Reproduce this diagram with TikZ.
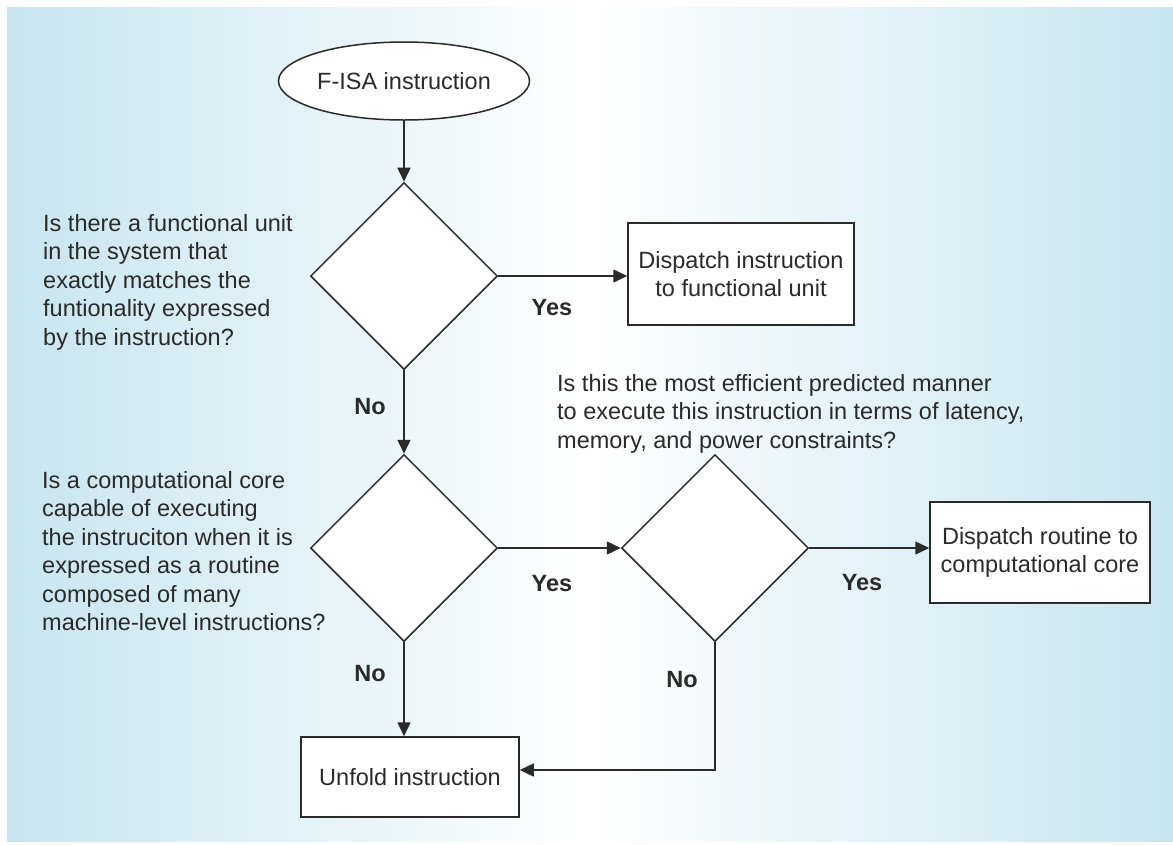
\documentclass[tikz,border=0pt]{standalone}
\usepackage{fontspec}
\setmainfont{Liberation Sans}
\usetikzlibrary{shapes.geometric,arrows.meta}
\definecolor{edgeblue}{HTML}{C8E5EF}
\definecolor{ink}{HTML}{2A2A2A}
\begin{document}
\begin{tikzpicture}[x=1pt,y=-1pt,
  every node/.style={text=ink, font=\fontsize{23.5}{28.5}\selectfont},
  flow/.style={draw=ink, line width=1.5pt, -{Triangle[length=14pt,width=13pt]}},
  decision/.style={diamond, draw=ink, fill=white, line width=1.5pt,
    minimum width=187pt, minimum height=187pt, inner sep=0pt},
  action/.style={rectangle, draw=ink, fill=white, line width=1.5pt,
    align=center, inner sep=0pt},
  terminal/.style={ellipse, draw=ink, fill=white, line width=1.5pt, inner sep=0pt},
  question/.style={align=left, anchor=north west, inner sep=0pt},
  answer/.style={font=\fontsize{23.5}{28.5}\selectfont\bfseries, inner sep=0pt}
]
\useasboundingbox (0,0) rectangle (1173,844);
\fill[white] (0,0) rectangle (1173,844);
\shade[left color=edgeblue, right color=edgeblue, middle color=white]
  (7,7) rectangle (1173,841);

% shapes of the flow
\node[terminal, minimum width=251pt, minimum height=78pt] (start) at (404,81) {F-ISA instruction};
\node[decision] (d1) at (404,276) {};
\node[decision] (d2) at (404,548) {};
\node[decision] (d3) at (715,548) {};
\node[action, minimum width=226pt, minimum height=102pt] (b1) at (741,274)
  {Dispatch instruction\\to functional unit};
\node[action, minimum width=220pt, minimum height=101pt] (b3) at (1040,552.5)
  {Dispatch routine to\\computational core};
\node[action, minimum width=218pt, minimum height=80pt] (b2) at (410,777)
  {Unfold instruction};

% questions asked at each decision
\node[question] (q1) at (43,214) {Is there a functional unit\\in the system that\\exactly matches the\\funtionality expressed\\by the instruction?};
\node[question] (q2) at (42,471) {Is a computational core\\capable of executing\\the instruciton when it is\\expressed as a routine\\composed of many\\machine-level instructions?};
\node[question] (q3) at (557,374) {Is this the most efficient predicted manner\\to execute this instruction in terms of latency,\\memory, and power constraints?};

% branch labels
\node[answer] (y1) at (552,308) {Yes};
\node[answer] (n1) at (370,407) {No};
\node[answer] (y2) at (552,584) {Yes};
\node[answer] (y3) at (862,583) {Yes};
\node[answer] (n2) at (370,674) {No};
\node[answer] (n3) at (682,680) {No};

% connectors
\draw[flow] (start) -- (d1);
\draw[flow] (d1.east) -- (d1.east -| b1.west);
\draw[flow] (d1) -- (d2);
\draw[flow] (d2) -- (d3);
\draw[flow] (d3.east) -- (d3.east -| b3.west);
\draw[flow] (d2.south) -- (d2.south |- b2.north);
\draw[flow] (d3.south) |- ([yshift=7pt]b2.east);
\end{tikzpicture}
\end{document}
